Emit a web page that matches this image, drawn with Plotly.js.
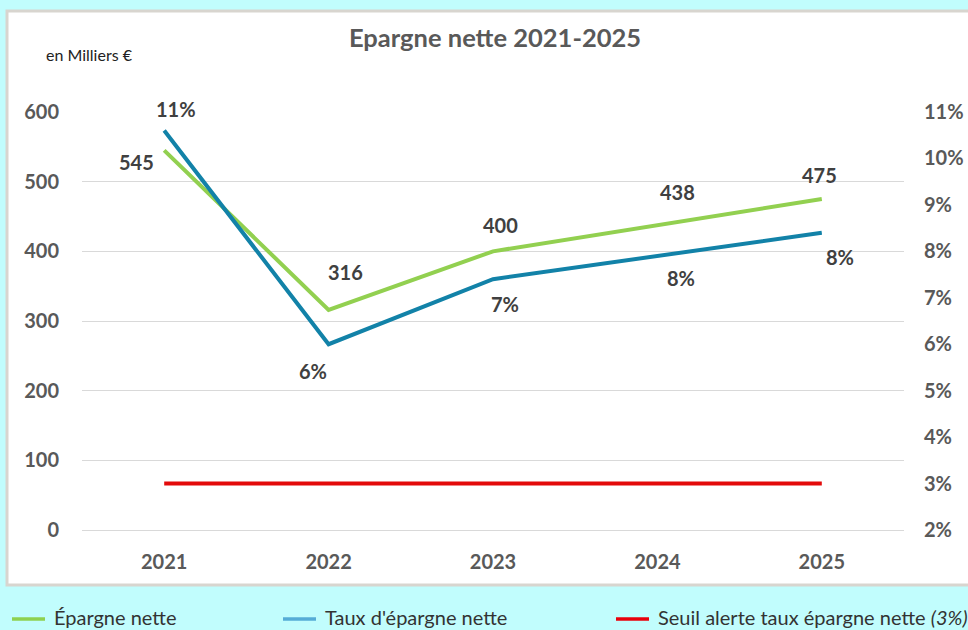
<!DOCTYPE html>
<html>
<head>
<meta charset="utf-8">
<script src="https://cdn.plot.ly/plotly-3.0.1.min.js"></script>
<style>
html,body{margin:0;padding:0;background:#c1fdfd;}
#chart{width:968px;height:630px;}
</style>
</head>
<body>
<div id="chart"></div>
<script>
// ---- data ----
const years = ["2021", "2022", "2023", "2024", "2025"];
const epargneNette = [545, 316, 400, 438, 475];          // milliers €
const tauxEpargne = [10.6, 6.0, 7.4, 7.9, 8.4];          // %
const seuilAlerte = [3, 3, 3, 3, 3];                     // %
const leftTicks = [0, 100, 200, 300, 400, 500, 600];
const rightTicks = [2, 3, 4, 5, 6, 7, 8, 9, 10, 11];
const seriesNames = ["Épargne nette", "Taux d'épargne nette", "Seuil alerte taux épargne nette <i>(3%)</i>"];

// ---- layout geometry ----
const W = 968, H = 630, ML = 82, MR = 64, MT = 112, MB = 100;
const PW = W - ML - MR, PH = H - MT - MB;
const px = x => (x - ML) / PW;
const py = y => (H - MB - y) / PH;

const FONT = "Lato, 'Open Sans', sans-serif";
const GREEN = "#92d050", BLUE = "#1282a8", RED = "#e30b0b";

const traces = [
  {x: years, y: epargneNette, name: seriesNames[0], type: "scatter", mode: "lines",
   line: {color: GREEN, width: 4}, yaxis: "y", hoverinfo: "skip"},
  {x: years, y: tauxEpargne, name: seriesNames[1], type: "scatter", mode: "lines",
   line: {color: BLUE, width: 4}, yaxis: "y2", hoverinfo: "skip"},
  {x: years, y: seuilAlerte, name: seriesNames[2], type: "scatter", mode: "lines",
   line: {color: RED, width: 4}, yaxis: "y2", hoverinfo: "skip"}
];

// data label offsets (pixels)
const greenOff = [[-28, -12], [17, 38], [7, 26], [20, 33], [-2, 24]];
const blueOff = [[12, 22], [-16, -27], [12, -25], [24, -22], [18, -24]];
const labelFont = {family: FONT, size: 20, color: "#404040"};

const annotations = [];
years.forEach((yr, i) => {
  annotations.push({x: i, y: epargneNette[i], xref: "x", yref: "y", text: "<b>" + epargneNette[i] + "</b>",
    showarrow: false, xanchor: "center", yanchor: "middle",
    xshift: greenOff[i][0], yshift: greenOff[i][1], font: labelFont});
  annotations.push({x: i, y: tauxEpargne[i], xref: "x", yref: "y2", text: "<b>" + Math.round(tauxEpargne[i]) + "%</b>",
    showarrow: false, xanchor: "center", yanchor: "middle",
    xshift: blueOff[i][0], yshift: blueOff[i][1], font: labelFont});
});
annotations.push({x: px(44), y: py(55), xref: "paper", yref: "paper", xanchor: "left", yanchor: "middle",
  text: "en Milliers €", showarrow: false, font: {family: FONT, size: 16, color: "#222"}});

// manual legend
const legendColors = ["#8ed14f", "#55acd6", "#e8000b"];
const legendX = [12, 283, 616];
const shapes = [
  {type: "rect", xref: "paper", yref: "paper", x0: px(7), x1: px(975), y0: py(585), y1: py(11),
   fillcolor: "#ffffff", line: {color: "#d8d5cf", width: 3}, layer: "below"}
];
legendX.forEach((lx, i) => {
  shapes.push({type: "line", xref: "paper", yref: "paper", x0: px(lx), x1: px(lx + 33), y0: py(619), y1: py(619),
    line: {color: legendColors[i], width: 3.5}});
  annotations.push({x: px(lx + 40), y: py(617), xref: "paper", yref: "paper", xanchor: "left", yanchor: "middle",
    text: seriesNames[i], showarrow: false, font: {family: FONT, size: 20, color: "#333"}});
});

const tickFont = {family: FONT, size: 20, color: "#595959", weight: "bold"};

const layout = {
  width: W, height: H,
  margin: {l: ML, r: MR, t: MT, b: MB},
  paper_bgcolor: "#c1fdfd", plot_bgcolor: "rgba(0,0,0,0)",
  showlegend: false,
  title: {text: "<b>Epargne nette 2021-2025</b>", xref: "paper", x: px(495), xanchor: "center",
          yref: "container", y: 1 - 38 / H, yanchor: "middle",
          font: {family: FONT, size: 25.5, color: "#595959"}},
  xaxis: {type: "category", range: [-0.5, 4.5], showgrid: false, zeroline: false, showline: false,
          ticks: "", tickfont: tickFont, ticklabelstandoff: 18, fixedrange: true},
  yaxis: {range: [0, 600], tickvals: leftTicks, showgrid: true, gridcolor: "#d9d9d9", gridwidth: 1,
          zeroline: true, zerolinecolor: "#d9d9d9", zerolinewidth: 1, showline: false, ticks: "",
          tickfont: tickFont, ticklabelstandoff: 22, fixedrange: true},
  yaxis2: {range: [2, 11], tickvals: rightTicks, ticktext: rightTicks.map(v => v + "%"),
           overlaying: "y", side: "right", showgrid: false, zeroline: false, showline: false,
           ticks: "", tickfont: tickFont, ticklabelstandoff: 19, fixedrange: true},
  shapes: shapes,
  annotations: annotations
};

Plotly.newPlot("chart", traces, layout, {displayModeBar: false, staticPlot: true});
</script>
</body>
</html>
